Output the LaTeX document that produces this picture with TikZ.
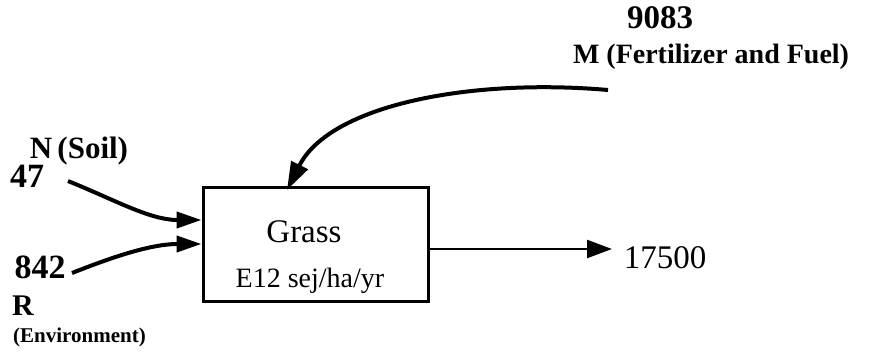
\documentclass[tikz,border=0pt]{standalone}
\usepackage{fontspec}
\setmainfont{Liberation Serif}
\usepackage{tikz}
\usetikzlibrary{arrows.meta}

\begin{document}
\begin{tikzpicture}[x=1pt, y=-1pt,
  flow/.style={line width=4pt, -{Triangle[length=25pt, width=16pt]}},
  outflow/.style={line width=2.4pt, -{Triangle[length=25pt, width=18pt]}},
  lab/.style={inner sep=0pt, anchor=base, font=\bfseries\fontsize{28}{30}\selectfont},
  plain/.style={inner sep=0pt, anchor=base, font=\fontsize{33}{35}\selectfont}]
\useasboundingbox (0,0) rectangle (878,354);

% draw box
\node (grass) [draw, line width=3pt, rectangle, minimum width=225pt, minimum height=114pt, inner sep=0pt] at (315.5,244) {};
\node (grasslab) [plain] at (304,242) {Grass};
\node (units) [plain, font=\fontsize{28}{30}\selectfont] at (310,287) {E12 sej/ha/yr};

% source labels
\node (n9083) [lab, font=\bfseries\fontsize{33}{35}\selectfont] at (660,28) {9083};
\node (mlab) [lab] at (711,63) {M (Fertilizer and Fuel)};
\node (nlab) [lab, font=\bfseries\fontsize{31}{33}\selectfont] at (79,158) {N\,(Soil)};
\node (n47) [lab, font=\bfseries\fontsize{34}{36}\selectfont] at (27,187) {47};
\node (n842) [lab, font=\bfseries\fontsize{34}{36}\selectfont] at (40,278) {842};
\node (rlab) [lab, anchor=base west, font=\bfseries\fontsize{30}{32}\selectfont] at (12,315) {R};
\node (envlab) [lab, anchor=base west, font=\bfseries\fontsize{21}{23}\selectfont] at (13,342) {(Environment)};
\node (n17500) [plain] at (665,268) {17500};

% arrow ends
\coordinate (nstart) at (68,181);
\coordinate (rstart) at (72,273);
\coordinate (mstart) at (608,90);
\coordinate (nin) at (grass.west |- 0,220);
\coordinate (rin) at (grass.west |- 0,244);
\coordinate (min) at (287,190);
\coordinate (outend) at (612,249);

% draw flows
\draw[flow] (nstart) .. controls (115,200) and (150,220) .. (nin);
\draw[flow] (rstart) .. controls (110,258) and (150,244) .. (rin);
\draw[flow, -{Triangle[length=28pt, width=18pt]}] (mstart) .. controls (470,78) and (330,105) .. (min);
\draw[outflow] (grass.east |- outend) -- (outend);

\end{tikzpicture}
\end{document}
